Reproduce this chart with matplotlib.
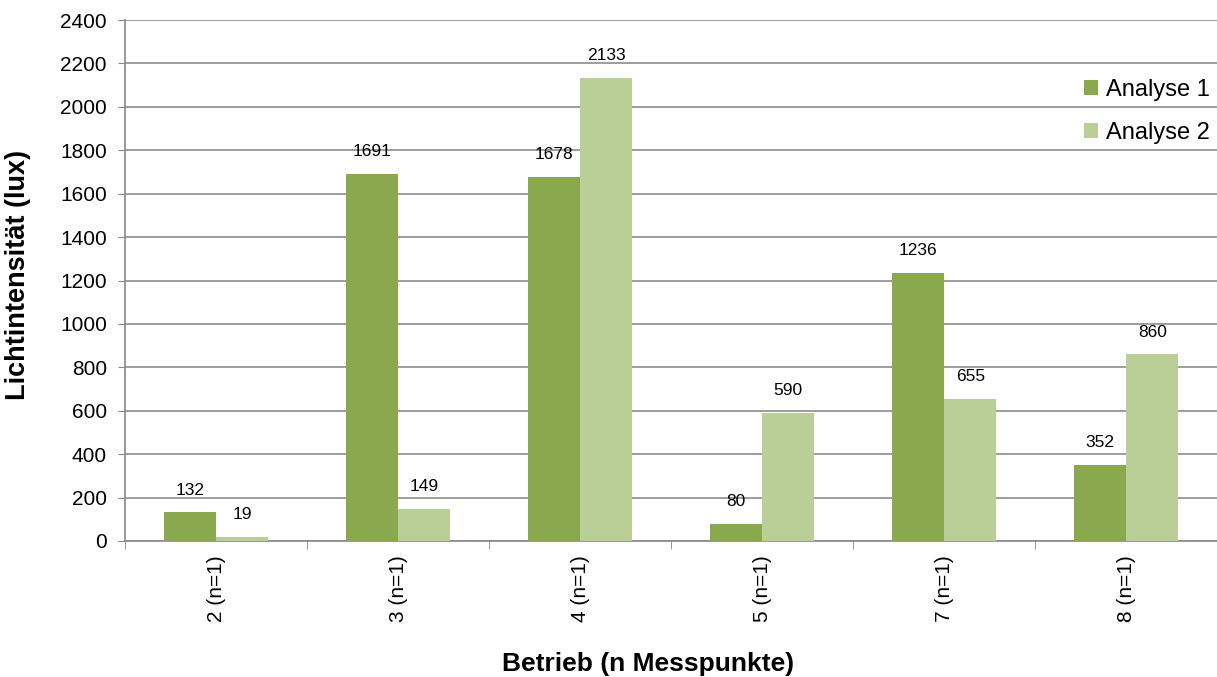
import matplotlib
matplotlib.use("Agg")
import matplotlib.pyplot as plt
import numpy as np

categories = ["2 (n=1)", "3 (n=1)", "4 (n=1)", "5 (n=1)", "7 (n=1)", "8 (n=1)"]
analyse1 = [132, 1691, 1678, 80, 1236, 352]
analyse2 = [19, 149, 2133, 590, 655, 860]
series_names = ["Analyse 1", "Analyse 2"]
colors = ["#8AA84E", "#BACF98"]

plt.rcParams['font.family'] = ['Liberation Sans', 'DejaVu Sans']

fig = plt.figure(figsize=(12.17, 6.77), dpi=100)
ax = fig.add_axes([125/1217, 1-541/677, (1217-125)/1217, (541-20)/677])

x = np.arange(len(categories))
w = 0.288
b1 = ax.bar(x - w/2, analyse1, w, color=colors[0], label=series_names[0], zorder=3)
b2 = ax.bar(x + w/2, analyse2, w, color=colors[1], label=series_names[1], zorder=3)

for bars, vals in ((b1, analyse1), (b2, analyse2)):
    for r, v in zip(bars, vals):
        ax.annotate(str(v), (r.get_x() + r.get_width()/2, v), xytext=(0, 16),
                    textcoords="offset points", ha="center", va="center", fontsize=12.5)

ax.set_xlim(-0.5, len(categories) - 0.5)
ax.set_ylim(0, 2400)
ax.set_yticks(range(0, 2401, 200))
ax.tick_params(axis='y', labelsize=15, length=5, color='#888888', pad=8)
ax.yaxis.grid(True, color='#8c8c8c', linewidth=1.2, zorder=0)
ax.set_axisbelow(True)

ax.set_xticks(x)
ax.set_xticklabels(categories, rotation=90, fontsize=15)
ax.tick_params(axis='x', length=0, pad=10)
ax.set_xticks(np.arange(-0.5, len(categories) + 0.5, 1), minor=True)
ax.tick_params(axis='x', which='minor', length=6, color='#888888')

for s in ['top', 'right']:
    ax.spines[s].set_visible(False)
for s in ['left', 'bottom']:
    ax.spines[s].set_color('#888888')
    ax.spines[s].set_linewidth(1.2)

fig.text(18/1217, 1-275/677, "Lichtintensität (lux)", fontsize=19.5, fontweight='bold',
         ha='center', va='center', rotation=90)
fig.text(648/1217, 1-664/677, "Betrieb (n Messpunkte)", fontsize=19, fontweight='bold',
         ha='center', va='center')

leg = ax.legend(loc='upper right', bbox_to_anchor=(1.013, 0.928), frameon=False, fontsize=17,
                handlelength=0.6, handleheight=0.6, handletextpad=0.35, labelspacing=0.88)

fig.savefig("out.png", dpi=100)
